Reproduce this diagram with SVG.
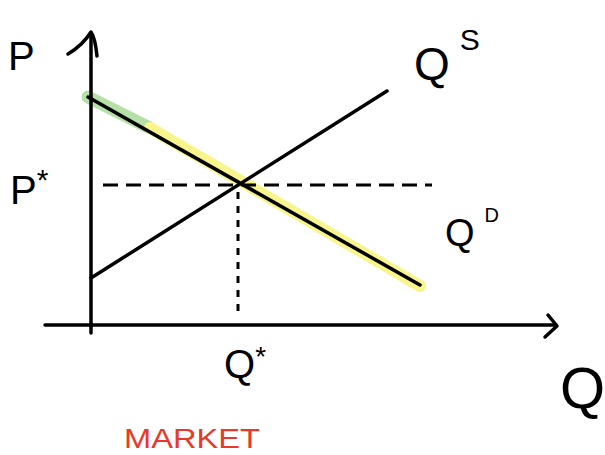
<svg xmlns="http://www.w3.org/2000/svg" width="605" height="455" viewBox="0 0 605 455">
<style>
.ln{stroke:#000;stroke-width:3.5;fill:none;stroke-linecap:round;stroke-linejoin:round}
.dash{stroke:#000;stroke-width:3;fill:none}
.lbl{font-family:"Liberation Sans",Arial,sans-serif;fill:#000}
</style>
<rect width="605" height="455" fill="#fff"/>
<g id="highlights">
<line x1="88" y1="97" x2="148" y2="127" stroke="#b7e0a8" stroke-width="13" stroke-linecap="round"/>
<line x1="150" y1="128" x2="420" y2="286" stroke="#f7f58c" stroke-width="12" stroke-linecap="round"/>
</g>
<g id="axes">
<path class="ln" d="M91,333 L91,34"/>
<path class="ln" d="M68,54 C78,48 86,40 91,32 C95,38 96,46 97,56"/>
<path class="ln" d="M45,325 L556,325"/>
<path class="ln" d="M548,315 L557,326 L545,337"/>
</g>
<g id="connectors">
<path class="ln" d="M91,278 L387,91"/>
<path class="ln" d="M88,97 L420,285"/>
<path class="dash" d="M103,185 L432,185" stroke-dasharray="15,8"/>
<path class="dash" d="M238,192 L238,318" stroke-dasharray="7,7"/>
</g>
<g id="labels">
<text class="lbl" x="8" y="70" font-size="40">P</text>
<text class="lbl" x="10" y="204" font-size="40">P<tspan font-size="30" dy="-14">*</tspan></text>
<text class="lbl" x="414" y="80" font-size="46">Q<tspan font-size="30" dy="-30" dx="10">S</tspan></text>
<text class="lbl" x="445" y="246" font-size="38">Q<tspan font-size="20" dy="-24" dx="10">D</tspan></text>
<text class="lbl" x="224" y="378" font-size="40">Q<tspan font-size="28" dy="-12">*</tspan></text>
<text class="lbl" x="560" y="408" font-size="58">Q</text>
<text x="124" y="448" font-family="Liberation Sans,Arial,sans-serif" font-size="28" fill="#e8392a" textLength="136" lengthAdjust="spacingAndGlyphs">MARKET</text>
</g>
</svg>
